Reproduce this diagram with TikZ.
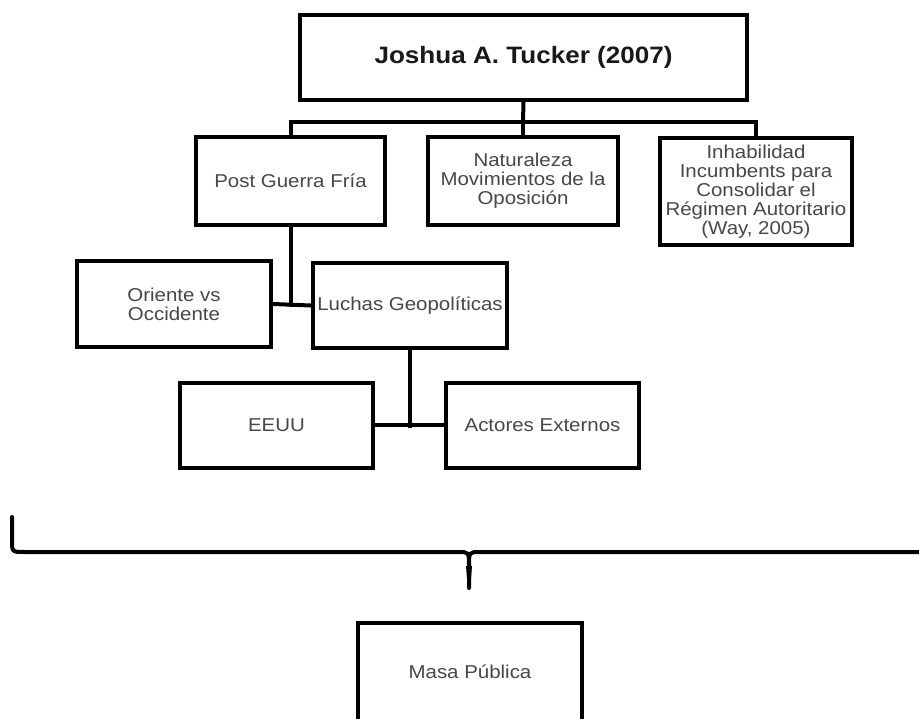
\documentclass[tikz,border=0pt]{standalone}
\usepackage{fontspec}
\setmainfont{Liberation Sans}[FakeStretch=1.1]
\begin{document}
\begin{tikzpicture}[x=1pt,y=-1pt,
  box/.style={draw=black,line width=4pt,align=center,inner sep=1pt,text=black!72,
    font=\fontsize{18.6}{19}\selectfont},
  titlebox/.style={box,text=black!90,font=\fontsize{23.7}{26}\selectfont\bfseries},
  conn/.style={line width=4pt,line cap=rect},
  bracestyle/.style={line width=4pt,line cap=round,line join=round}]
\useasboundingbox (0,0) rectangle (919,719);
\clip (0,0) rectangle (919,719);
\fill[white] (0,0) rectangle (919,719);
% nodes
\node[titlebox,minimum width=447pt,minimum height=85pt] (top) at (523.5,57.5) {Joshua A. Tucker (2007)};
\node[box,minimum width=189pt,minimum height=88pt] (pgf) at (290.5,181) {Post Guerra Fría};
\node[box,minimum width=190pt,minimum height=88pt] (nat) at (523,181) {Naturaleza\\Movimientos de la\\Oposición};
\node[box,minimum width=192pt,minimum height=107pt] (inh) at (756,191.5) {Inhabilidad\\Incumbents para\\Consolidar el\\Régimen Autoritario\\(Way, 2005)};
\node[box,minimum width=194pt,minimum height=86pt] (ori) at (174,304) {Oriente vs\\Occidente};
\node[box,minimum width=194pt,minimum height=85pt] (luc) at (410,305.5) {Luchas Geopolíticas};
\node[box,minimum width=193pt,minimum height=85pt] (eeuu) at (276.5,425.5) {EEUU};
\node[box,minimum width=193pt,minimum height=85pt] (act) at (542.5,425.5) {Actores Externos};
\node[box,minimum width=224pt,minimum height=98pt] (masa) at (470,672) {Masa Pública};
% connectors
\coordinate (j1) at (523,122);
\draw[conn] (top.south) -- (j1);
\draw[conn] (pgf.north) |- (inh.north |- j1) -- (inh.north);
\draw[conn] (nat.north) -- (nat.north |- j1);
\coordinate (j2) at (290.5,305);
\draw[conn] (pgf.south) -- (j2);
\draw[conn] (ori.east) -- (luc.west);
\coordinate (j3) at (410,426);
\draw[conn] (luc.south) -- (j3);
\draw[conn] (eeuu.east) -- (act.west);
% brace
\coordinate (bl) at (12,517);
\coordinate (bt) at (469,588);
\draw[bracestyle] (bl) -- (12,540) .. controls (12,552) .. (24,552) -- (458,552)
  .. controls (469,552) .. (469,566) -- (bt);
\draw[bracestyle] (469,566) .. controls (469,552) .. (480,552) -- (930,552);
\fill (466,566) -- (472,566) -- (470.5,585) -- (467.5,585) -- cycle;
\end{tikzpicture}
\end{document}
